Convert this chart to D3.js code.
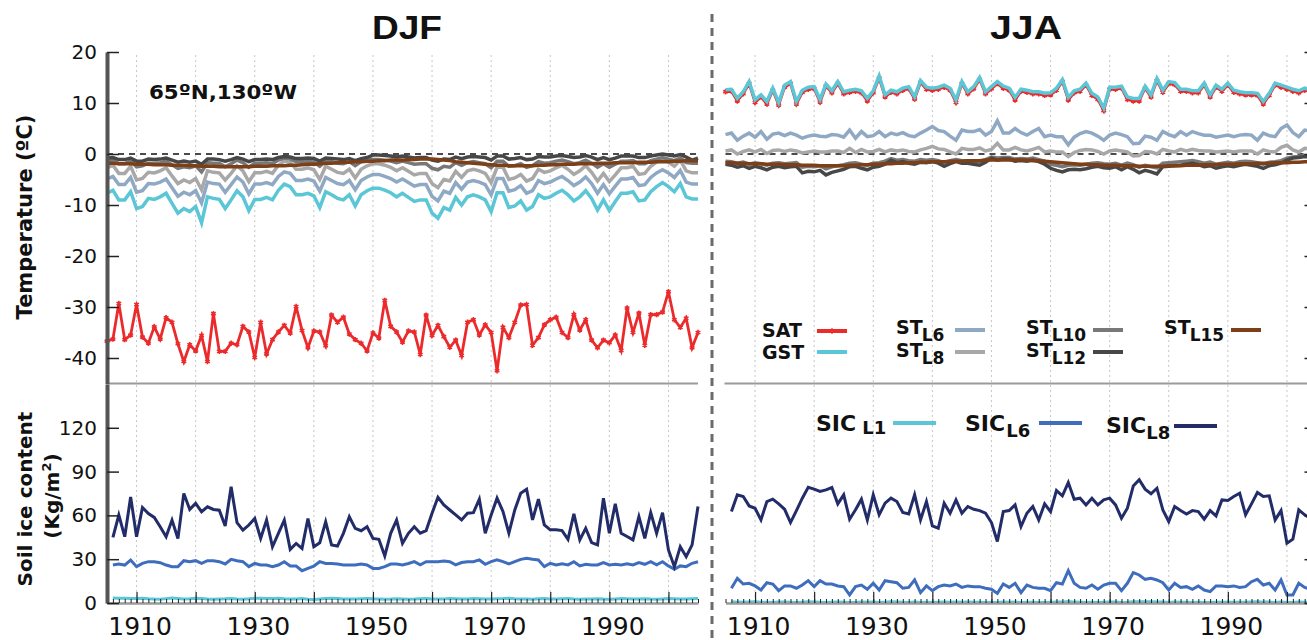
<!DOCTYPE html>
<html>
<head>
<meta charset="utf-8">
<script src="https://cdn.jsdelivr.net/npm/d3@7"></script>
<style>
  body { margin: 0; background: #fff; }
  svg text { font-family: "DejaVu Sans", sans-serif; fill: #111; }
</style>
</head>
<body>
<svg id="chart" width="1307" height="640"></svg>
<script>
// ---- data (one value per year 1905-2005) ----
var years = d3.range(1905, 2006);
var decadeYears = [1910, 1920, 1930, 1940, 1950, 1960, 1970, 1980, 1990, 2000];
var labelYears = [1910, 1930, 1950, 1970, 1990];
var tempTicks = [-40, -30, -20, -10, 0, 10, 20];
var iceTicks = [0, 30, 60, 90, 120];

var djfSAT = [-36.7,-36.3,-29.3,-36.4,-35.5,-29.5,-35.9,-37.1,-33.9,-36.3,
  -32.1,-33.0,-37.2,-40.7,-37.4,-38.6,-35.6,-40.7,-31.3,-38.7,
  -38.7,-37.1,-37.4,-33.8,-34.9,-39.9,-33.0,-39.2,-36.4,-34.9,
  -33.6,-35.1,-29.9,-34.6,-38.0,-34.7,-34.9,-37.6,-31.6,-33.0,
  -32.0,-35.3,-36.4,-37.1,-38.6,-35.1,-36.1,-28.7,-33.8,-34.9,
  -36.9,-34.7,-34.9,-39.3,-31.6,-35.6,-33.6,-35.8,-37.9,-36.5,
  -39.5,-33.0,-32.5,-35.5,-33.5,-35.0,-42.5,-34.0,-36.0,-33.0,
  -29.6,-29.5,-37.5,-36.0,-33.5,-32.5,-32.0,-35.0,-36.0,-31.5,
  -34.5,-32.5,-36.5,-38.0,-36.5,-37.0,-35.5,-38.5,-30.2,-35.0,
  -31.2,-37.5,-31.5,-31.5,-31.0,-27.0,-32.5,-34.0,-32.2,-38.0,
  -35.0];
var djfGST = [-7.7,-7.1,-9.0,-9.0,-7.4,-10.7,-10.3,-8.7,-8.9,-8.4,
  -7.7,-9.7,-11.6,-10.7,-11.3,-10.3,-13.5,-8.4,-8.7,-8.9,
  -10.7,-9.0,-7.2,-8.4,-11.1,-8.9,-8.9,-8.5,-9.0,-7.1,
  -5.9,-6.4,-8.0,-8.0,-7.7,-8.2,-10.5,-7.4,-8.0,-8.7,
  -9.0,-8.0,-10.2,-8.0,-7.2,-6.7,-6.7,-7.1,-7.6,-8.4,
  -7.7,-8.5,-9.3,-9.0,-9.0,-11.6,-12.6,-10.5,-11.0,-8.5,
  -10.0,-8.4,-8.0,-8.4,-9.0,-11.3,-7.6,-7.6,-10.5,-10.2,
  -9.2,-11.0,-10.3,-8.0,-8.7,-8.4,-7.7,-7.1,-8.0,-9.2,
  -8.4,-7.2,-8.7,-11.0,-9.0,-11.1,-9.3,-7.7,-7.7,-7.4,
  -9.2,-9.0,-7.4,-6.4,-5.6,-6.4,-7.4,-5.8,-8.4,-8.8,
  -8.8];
var djfST6 = [-4.9,-4.4,-6.0,-6.0,-4.6,-7.5,-7.2,-5.8,-5.9,-5.5,
  -4.9,-6.6,-8.3,-7.5,-8.0,-7.2,-9.6,-5.5,-5.8,-5.9,
  -7.5,-6.0,-4.5,-5.5,-7.8,-5.9,-5.9,-5.6,-6.0,-4.4,
  -3.5,-3.8,-5.2,-5.2,-4.9,-5.3,-7.3,-4.6,-5.2,-5.8,
  -6.0,-5.2,-7.0,-5.2,-4.5,-4.0,-4.0,-4.4,-4.8,-5.5,
  -4.9,-5.6,-6.3,-6.0,-6.0,-8.3,-9.2,-7.3,-7.7,-5.6,
  -6.9,-5.5,-5.2,-5.5,-6.0,-8.0,-4.8,-4.8,-7.3,-7.0,
  -6.2,-7.7,-7.2,-5.2,-5.8,-5.5,-4.9,-4.4,-5.2,-6.2,
  -5.5,-4.5,-5.8,-7.7,-6.0,-7.8,-6.3,-4.9,-4.9,-4.6,
  -6.2,-6.0,-4.6,-3.7,-3.1,-3.7,-4.6,-3.2,-5.5,-5.9,
  -5.9];
var djfST8 = [-2.7,-2.2,-3.8,-3.8,-2.4,-5.1,-4.8,-3.6,-3.7,-3.3,
  -2.7,-4.3,-5.8,-5.1,-5.6,-4.8,-7.0,-3.3,-3.6,-3.7,
  -5.1,-3.8,-2.3,-3.3,-5.4,-3.7,-3.7,-3.4,-3.8,-2.2,
  -1.4,-1.7,-3.0,-3.0,-2.7,-3.1,-5.0,-2.4,-3.0,-3.6,
  -3.8,-3.0,-4.7,-3.0,-2.3,-1.9,-1.9,-2.2,-2.6,-3.3,
  -2.7,-3.4,-4.1,-3.8,-3.8,-5.8,-6.6,-5.0,-5.3,-3.4,
  -4.6,-3.3,-3.0,-3.3,-3.8,-5.6,-2.6,-2.6,-5.0,-4.7,
  -4.0,-5.3,-4.8,-3.0,-3.6,-3.3,-2.7,-2.2,-3.0,-4.0,
  -3.3,-2.3,-3.6,-5.3,-3.8,-5.4,-4.1,-2.7,-2.7,-2.4,
  -4.0,-3.8,-2.4,-1.6,-1.1,-1.6,-2.4,-1.2,-3.3,-3.7,
  -3.7];
var djfST10 = [-1.4,-1.2,-1.9,-1.9,-1.3,-2.5,-2.3,-1.8,-1.8,-1.7,
  -1.4,-2.1,-2.8,-2.5,-2.7,-2.3,-3.5,-1.7,-1.8,-1.8,
  -2.5,-1.9,-1.2,-1.7,-2.6,-1.8,-1.8,-1.7,-1.9,-1.2,
  -0.8,-1.0,-1.5,-1.5,-1.4,-1.6,-2.4,-1.3,-1.5,-1.8,
  -1.9,-1.5,-2.3,-1.5,-1.2,-1.1,-1.1,-1.2,-1.4,-1.7,
  -1.4,-1.7,-2.0,-1.9,-1.9,-2.8,-3.1,-2.4,-2.6,-1.7,
  -2.2,-1.7,-1.5,-1.7,-1.9,-2.7,-1.4,-1.4,-2.4,-2.3,
  -1.9,-2.6,-2.3,-1.5,-1.8,-1.7,-1.4,-1.2,-1.5,-1.9,
  -1.7,-1.2,-1.8,-2.6,-1.9,-2.6,-2.0,-1.4,-1.4,-1.3,
  -1.9,-1.9,-1.3,-1.0,-0.7,-1.0,-1.3,-0.8,-1.7,-1.8,
  -1.8];
var djfST12 = [-0.8,-0.7,-1.1,-1.1,-0.8,-1.4,-1.4,-1.0,-1.1,-1.0,
  -0.8,-1.2,-1.6,-1.4,-1.6,-1.4,-2.0,-1.0,-1.0,-1.1,
  -1.4,-1.1,-0.7,-1.0,-1.5,-1.1,-1.1,-1.0,-1.1,-0.7,
  -0.5,-0.6,-0.9,-0.9,-0.8,-0.9,-1.4,-0.8,-0.9,-1.0,
  -1.1,-0.9,-1.3,-0.9,-0.7,-0.2,-0.2,-0.3,-0.4,-0.6,
  -0.4,-0.6,-0.8,-0.7,-0.7,-1.2,-1.4,-1.0,-1.1,-0.6,
  -0.9,-0.6,-0.5,-0.6,-0.7,-1.2,-0.4,-0.4,-1.0,-0.9,
  -0.7,-1.1,-1.0,-0.5,-0.6,-0.6,-0.4,-0.3,-0.5,-0.7,
  -0.6,-0.3,-0.6,-1.1,-0.7,-1.1,-0.8,-0.4,-0.4,-0.4,
  -0.7,-0.7,-0.4,-0.2,0.0,-0.2,-0.4,-0.1,-0.6,-1.2,
  -0.8];
var djfST15 = [-1.8,-1.8,-1.9,-1.9,-1.9,-2.0,-2.0,-2.0,-2.1,-2.1,
  -2.1,-2.2,-2.2,-2.2,-2.3,-2.3,-2.4,-2.4,-2.4,-2.5,
  -2.5,-2.5,-2.5,-2.5,-2.5,-2.4,-2.4,-2.4,-2.3,-2.3,
  -2.3,-2.2,-2.2,-2.1,-2.0,-2.0,-1.9,-1.8,-1.8,-1.7,
  -1.6,-1.6,-1.5,-1.5,-1.4,-1.4,-1.3,-1.3,-1.2,-1.2,
  -1.2,-1.1,-1.1,-1.0,-1.0,-1.0,-1.1,-1.2,-1.3,-1.5,
  -1.6,-1.7,-1.8,-1.9,-2.0,-2.1,-2.2,-2.2,-2.3,-2.3,
  -2.3,-2.3,-2.3,-2.2,-2.2,-2.1,-2.1,-2.0,-2.0,-2.0,
  -1.9,-1.9,-1.9,-1.8,-1.8,-1.8,-1.7,-1.7,-1.7,-1.7,
  -1.6,-1.6,-1.6,-1.5,-1.5,-1.5,-1.4,-1.4,-1.3,-1.3,
  -1.3];

var jjaSAT = [12.2,12.3,10.4,11.8,13.8,10.1,11.2,9.8,12.5,9.6,
  13.1,13.8,9.8,12.1,12.7,12.8,10.2,13.3,12.0,13.8,
  11.8,12.1,12.3,12.0,10.4,12.0,14.9,11.2,12.1,11.8,
  12.5,12.8,10.8,14.0,12.7,12.5,12.7,13.1,12.5,10.1,
  13.8,11.8,12.8,14.6,11.8,12.8,13.8,12.9,12.5,10.6,
  12.3,12.1,11.8,11.8,11.5,11.6,12.5,14.2,10.6,12.0,
  12.3,13.5,11.5,10.7,8.5,12.7,12.7,12.9,10.7,10.4,
  10.4,12.9,11.2,14.4,12.1,13.8,13.6,12.3,12.3,12.0,
  12.0,13.5,11.2,13.1,12.3,13.5,12.1,11.8,11.6,11.6,
  11.5,9.8,11.5,13.5,13.1,12.7,12.3,12.0,12.5,12.2,
  11.9];
var jjaGST = [12.6,12.7,10.9,12.2,14.2,10.6,11.6,10.3,12.9,10.1,
  13.5,14.2,10.3,12.5,13.1,13.2,10.7,13.7,12.4,14.2,
  12.2,12.5,12.7,12.4,10.9,12.4,15.3,11.6,12.5,12.2,
  12.9,13.2,11.2,14.4,13.1,12.9,13.1,13.5,12.9,10.6,
  14.2,12.2,13.2,15.0,12.2,13.2,14.2,13.3,12.9,11.1,
  12.7,12.5,12.2,12.2,11.9,12.0,12.9,14.6,11.1,12.4,
  12.7,13.9,11.9,11.2,9.0,13.1,13.1,13.3,11.2,10.9,
  10.9,13.3,11.6,14.8,12.5,14.2,14.0,12.7,12.7,12.4,
  12.4,13.9,11.6,13.5,12.7,13.9,12.5,12.2,12.0,12.0,
  11.9,10.3,11.9,13.9,13.5,13.1,12.7,12.4,12.9,12.6,
  12.3];
var jjaST6 = [3.8,4.1,2.7,3.5,4.1,3.3,4.4,2.9,3.9,4.1,
  3.6,4.1,3.7,3.1,3.5,3.7,3.5,3.4,3.8,3.7,
  3.3,4.7,3.1,4.4,3.4,3.6,4.4,3.4,4.1,3.8,
  4.2,3.6,3.4,4.1,4.7,5.4,4.6,4.4,3.5,2.7,
  4.7,4.4,4.4,4.8,3.7,4.4,6.5,4.1,4.1,5.0,
  4.2,3.7,4.4,5.0,3.4,3.7,3.4,3.4,1.8,3.3,
  4.0,4.4,4.1,3.5,2.7,3.7,4.1,3.8,3.4,2.0,
  2.1,3.5,3.3,2.7,4.4,3.8,3.4,4.4,3.7,4.4,
  4.0,3.7,3.7,3.3,3.5,3.7,3.4,3.7,3.8,3.7,
  2.7,4.1,3.6,3.4,5.0,5.7,4.2,3.4,4.7,4.5,
  4.2];
var jjaST8 = [0.6,0.8,0.0,0.5,0.8,0.4,0.9,0.1,0.7,0.8,
  0.5,0.8,0.6,0.2,0.4,0.6,0.4,0.4,0.6,0.6,
  0.3,1.1,0.3,0.9,0.4,0.5,0.9,0.4,0.8,0.6,
  0.8,0.5,0.4,0.8,1.1,1.5,1.0,0.9,0.4,0.0,
  1.1,0.9,0.9,1.2,0.6,0.9,2.1,0.8,0.8,1.3,
  0.8,0.6,0.9,1.3,0.4,0.6,0.4,0.4,-0.5,0.3,
  0.7,0.9,0.8,0.5,0.0,0.6,0.8,0.6,0.4,-0.4,
  -0.3,0.5,0.4,0.0,0.9,0.6,0.4,0.9,0.6,0.9,
  0.7,0.6,0.6,0.4,0.5,0.6,0.4,0.6,0.6,0.6,
  0.0,0.8,0.5,0.4,1.3,1.7,0.8,0.4,1.1,1.0,
  0.8];
var jjaST10 = [-1.4,-1.5,-1.8,-1.6,-2.0,-1.7,-1.9,-2.2,-1.8,-1.7,
  -1.9,-1.8,-1.7,-2.6,-2.4,-2.5,-2.3,-2.9,-2.5,-2.3,
  -2.1,-1.8,-1.7,-2.0,-2.2,-1.8,-1.7,-1.4,-0.9,-1.2,
  -1.1,-1.3,-1.4,-1.1,-1.2,-1.1,-1.3,-1.7,-1.3,-1.1,
  -1.3,-1.3,-1.4,-1.5,-1.1,-0.6,-0.8,-0.7,-0.7,-1.0,
  -0.9,-1.0,-0.8,-1.1,-1.4,-2.0,-2.2,-2.5,-2.2,-2.1,
  -2.2,-2.0,-1.8,-1.7,-1.9,-2.0,-1.8,-2.2,-1.8,-2.1,
  -2.6,-2.2,-2.5,-2.7,-1.8,-1.7,-1.6,-1.5,-1.4,-1.3,
  -1.5,-1.8,-1.6,-2.0,-1.8,-1.6,-1.8,-1.5,-1.4,-1.5,
  -1.7,-2.0,-1.6,-1.5,-1.3,-0.8,-0.6,-0.5,-0.3,-0.4,
  -0.5];
var jjaST12 = [-2.0,-2.2,-2.6,-2.3,-2.8,-2.4,-2.7,-3.1,-2.6,-2.4,
  -2.7,-2.5,-2.4,-3.7,-3.4,-3.5,-3.2,-4.1,-3.6,-3.3,
  -3.0,-2.5,-2.4,-2.8,-3.1,-2.6,-2.4,-2.0,-1.2,-1.7,
  -1.5,-1.8,-2.0,-1.6,-1.7,-1.5,-1.8,-2.4,-1.9,-1.5,
  -1.8,-1.8,-2.0,-2.2,-1.6,-0.8,-1.2,-1.0,-1.0,-1.4,
  -1.3,-1.4,-1.2,-1.5,-2.0,-2.8,-3.2,-3.5,-3.1,-3.0,
  -3.1,-2.9,-2.6,-2.4,-2.7,-2.8,-2.5,-3.1,-2.5,-3.0,
  -3.7,-3.2,-3.5,-3.9,-2.5,-2.4,-2.3,-2.2,-2.0,-1.8,
  -2.1,-2.5,-2.3,-2.8,-2.5,-2.3,-2.5,-2.2,-2.0,-2.2,
  -2.4,-2.8,-2.3,-2.1,-1.8,-1.2,-0.8,-0.7,-0.5,-0.6,
  -0.7];
var jjaST15 = [-1.7,-1.7,-1.8,-1.8,-1.9,-1.9,-1.9,-2.0,-2.0,-2.0,
  -2.1,-2.1,-2.1,-2.2,-2.2,-2.2,-2.3,-2.3,-2.3,-2.3,
  -2.3,-2.2,-2.2,-2.1,-2.1,-2.0,-2.0,-1.9,-1.9,-1.8,
  -1.8,-1.7,-1.7,-1.6,-1.6,-1.5,-1.5,-1.5,-1.4,-1.4,
  -1.4,-1.3,-1.3,-1.3,-1.2,-1.2,-1.2,-1.2,-1.2,-1.2,
  -1.2,-1.2,-1.3,-1.3,-1.4,-1.5,-1.6,-1.7,-1.8,-1.9,
  -2.0,-2.0,-2.1,-2.1,-2.2,-2.2,-2.2,-2.3,-2.3,-2.3,
  -2.4,-2.4,-2.4,-2.4,-2.4,-2.3,-2.3,-2.3,-2.2,-2.2,
  -2.2,-2.1,-2.1,-2.1,-2.0,-2.0,-2.0,-1.9,-1.9,-1.9,
  -1.8,-1.8,-1.8,-1.7,-1.7,-1.7,-1.6,-1.6,-1.5,-1.5,
  -1.5];

var djfSIC1 = [null,3.5,3.3,3.2,3.0,3.1,3.3,2.9,2.7,2.6,
  3.0,3.4,3.1,2.8,2.9,3.2,3.0,2.7,2.6,2.8,
  2.9,3.1,2.8,2.6,2.9,3.3,3.2,3.0,3.1,3.3,
  2.9,2.7,2.8,3.0,2.6,2.4,2.8,3.1,3.2,3.0,
  2.8,2.7,2.7,2.9,3.1,2.9,2.8,2.6,2.7,2.9,
  2.8,2.6,2.7,2.9,3.1,2.8,2.7,2.8,3.0,2.9,
  2.7,2.8,3.1,2.9,2.7,2.8,2.9,3.0,3.2,2.9,
  2.7,2.8,2.6,2.9,3.0,2.8,2.7,2.9,3.1,2.8,
  2.6,2.7,2.8,2.9,2.7,2.6,2.8,3.0,2.9,2.7,
  2.8,2.9,2.7,2.6,2.8,3.0,2.9,2.8,2.7,2.9,
  3.1];
var djfSIC6 = [null,26.0,26.7,26.0,29.4,24.9,27.1,28.3,28.3,27.6,
  26.0,24.9,24.9,29.0,28.3,29.0,27.1,29.0,29.0,28.3,
  26.7,29.9,29.0,28.3,24.9,27.1,26.0,26.0,24.9,26.0,
  28.3,25.3,25.3,22.1,23.7,25.3,28.3,27.1,27.1,26.7,
  26.0,26.0,26.0,26.7,26.0,23.7,23.7,24.9,26.7,26.7,
  26.0,27.1,28.3,26.1,28.3,28.3,28.3,28.8,28.3,26.1,
  27.7,28.3,28.3,29.5,26.5,28.3,29.5,28.3,26.8,28.3,
  29.9,30.6,29.9,29.5,24.9,27.2,26.1,26.8,26.1,28.3,
  25.4,26.5,26.1,26.1,27.7,26.1,26.5,26.1,26.8,26.1,
  27.7,26.5,28.3,26.1,28.3,25.4,23.1,25.4,24.9,27.2,
  28.3];
var djfSIC8 = [null,44.9,60.2,45.4,72.7,45.4,65.4,61.3,58.6,52.2,
  45.4,56.8,44.2,75.0,64.1,68.2,62.5,65.9,64.1,63.6,
  52.7,79.6,55.0,49.9,53.4,57.9,44.2,56.8,38.5,47.7,
  56.8,36.7,40.8,37.4,57.9,38.5,41.3,55.6,39.7,39.0,
  47.7,59.1,51.1,49.5,52.2,44.2,43.6,32.2,47.7,56.8,
  40.8,47.7,52.2,47.8,49.6,61.5,72.4,67.2,63.7,60.3,
  56.9,61.5,61.9,71.1,47.8,60.3,71.8,62.7,47.8,63.7,
  75.2,77.9,56.9,71.1,53.5,50.1,50.1,49.6,43.6,61.0,
  43.2,51.2,41.4,39.8,71.8,47.8,68.0,47.8,45.5,43.2,
  59.2,44.3,61.9,47.8,61.9,36.3,24.9,38.6,31.7,39.8,
  66.1];

var jjaSIC1 = [null,0.8,0.6,0.5,0.7,0.9,0.6,0.5,0.4,0.6,
  0.7,0.5,0.4,0.6,0.8,0.7,0.5,0.4,0.5,0.6,
  0.5,0.3,0.4,0.6,0.5,0.7,0.4,0.6,0.8,0.7,
  0.5,0.4,0.7,0.3,0.5,0.4,0.5,0.6,0.5,0.6,
  0.5,0.6,0.5,0.5,0.4,0.4,0.3,0.6,0.5,0.6,
  0.3,0.5,0.5,0.4,0.4,0.4,0.6,0.6,1.0,0.6,
  0.5,0.4,0.5,0.4,0.5,0.6,0.6,0.4,0.6,0.9,
  0.9,0.8,0.8,0.7,0.6,0.4,0.6,0.5,0.5,0.4,
  0.5,0.4,0.4,0.5,0.5,0.5,0.5,0.5,0.5,0.7,
  0.8,0.6,0.6,0.4,0.7,0.3,0.3,0.6,0.5,0.4,
  0.5];
var jjaSIC6 = [null,10.1,16.9,13.0,13.5,11.7,8.9,13.9,13.0,8.5,
  11.7,11.7,10.1,12.3,15.3,11.2,15.3,13.0,13.0,11.7,
  11.2,5.5,11.2,12.3,9.4,13.5,8.9,15.3,14.6,13.9,
  10.1,10.7,15.8,7.1,11.7,8.5,11.2,12.3,11.7,13.0,
  10.7,11.7,11.2,11.2,10.1,9.4,6.6,13.0,10.7,13.5,
  7.1,12.3,10.7,10.1,10.1,8.5,13.9,13.0,22.2,13.5,
  10.7,10.1,12.3,9.4,12.3,13.5,13.5,8.5,13.5,20.8,
  19.2,16.2,16.9,15.8,13.9,8.9,13.5,10.7,11.2,9.4,
  11.7,8.9,7.8,11.7,11.7,11.2,11.7,10.7,11.2,14.6,
  16.2,12.3,13.5,8.9,15.8,5.5,5.5,13.5,10.7,9.5,
  10.0];
var jjaSIC8 = [null,62.6,74.1,72.9,66.5,64.9,56.9,69.5,71.1,67.9,
  64.2,55.1,63.3,71.8,79.3,78.0,76.4,77.5,79.1,67.9,
  74.1,57.4,63.8,71.1,56.9,74.1,60.4,68.4,71.8,69.5,
  62.0,61.0,74.1,56.9,69.5,52.8,51.2,68.4,61.5,70.6,
  61.5,66.1,64.2,63.3,61.5,55.1,42.1,62.6,63.3,67.2,
  52.4,61.5,66.1,56.9,67.9,62.6,77.0,73.4,82.5,71.1,
  71.8,67.2,71.8,67.2,70.6,71.8,67.2,58.1,64.9,80.2,
  84.4,78.0,74.8,78.6,63.8,55.8,66.1,63.3,61.0,63.3,
  62.6,57.4,63.3,59.7,70.6,70.2,72.9,75.2,60.4,67.9,
  75.7,72.9,73.4,56.9,63.3,40.9,43.7,63.8,60.4,58.0,
  56.0];

var colors = {
  SAT: "#ec2a2c", GST: "#5ac6d6", ST6: "#8fa9c4", ST8: "#a8a8a8",
  ST10: "#787878", ST12: "#474747", ST15: "#7c3f18",
  SIC1: "#5ac6d6", SIC6: "#3f6dbd", SIC8: "#222c68"
};

var panels = [
  { title: "DJF", titleX: 372, titleW: 70, left: 107, right: 698, side: "left",
    temp: { SAT: djfSAT, GST: djfGST, ST6: djfST6, ST8: djfST8, ST10: djfST10, ST12: djfST12, ST15: djfST15 },
    ice: { SIC1: djfSIC1, SIC6: djfSIC6, SIC8: djfSIC8 } },
  { title: "JJA", titleX: 990, titleW: 72, left: 725.5, right: 1316.5, side: "right",
    temp: { SAT: jjaSAT, GST: jjaGST, ST6: jjaST6, ST8: jjaST8, ST10: jjaST10, ST12: jjaST12, ST15: jjaST15 },
    ice: { SIC1: jjaSIC1, SIC6: jjaSIC6, SIC8: jjaSIC8 } }
];

let chart = d3.select("#chart");
let yT = d3.scaleLinear().domain([-45, 20]).range([383.5, 52]);
let yI = d3.scaleLinear().domain([0, 150]).range([603, 384]);
let asterisk = d3.symbolAsterisk || d3.symbolCross;

function drawSeries(g, x, y, values, color, width) {
  let line = d3.line()
    .defined(d => d != null)
    .x((d, i) => x(years[i]))
    .y(d => y(d));
  g.append("path")
    .datum(values)
    .attr("d", line)
    .style("fill", "none")
    .style("stroke", color)
    .style("stroke-width", width + "px")
    .style("stroke-linejoin", "miter");
}

function drawPanel(p) {
  let x = d3.scaleLinear().domain([1905, 2005]).range([p.left, p.right]);
  let g = chart.append("g");

  // dotted decade grid
  g.selectAll(".grid").data(decadeYears).enter().append("line")
    .attr("x1", d => x(d)).attr("x2", d => x(d))
    .attr("y1", yT(20) + 3).attr("y2", yI(0))
    .style("stroke", "#c6c6c6").style("stroke-width", 1)
    .style("stroke-dasharray", "2,3");

  // zero line
  g.append("line")
    .attr("x1", p.left).attr("x2", p.right)
    .attr("y1", yT(0)).attr("y2", yT(0))
    .style("stroke", "#111").style("stroke-width", 1.5)
    .style("stroke-dasharray", "6,5");

  // separator between temperature and ice panels
  g.append("line")
    .attr("x1", p.left - 1).attr("x2", p.right)
    .attr("y1", yT(-45)).attr("y2", yT(-45))
    .style("stroke", "#9a9a9a").style("stroke-width", 2);

  // temperature series
  drawSeries(g, x, yT, p.temp.SAT, colors.SAT, 2.8);
  g.selectAll(".sat").data(p.temp.SAT).enter().append("path")
    .attr("transform", (d, i) => "translate(" + x(years[i]) + "," + yT(d) + ")")
    .attr("d", d3.symbol().type(asterisk).size(20))
    .style("fill", "none").style("stroke", colors.SAT).style("stroke-width", 1.6);
  drawSeries(g, x, yT, p.temp.GST, colors.GST, 3.5);
  drawSeries(g, x, yT, p.temp.ST6, colors.ST6, 3.5);
  drawSeries(g, x, yT, p.temp.ST8, colors.ST8, 3.5);
  drawSeries(g, x, yT, p.temp.ST10, colors.ST10, 3.5);
  drawSeries(g, x, yT, p.temp.ST12, colors.ST12, 3.5);
  drawSeries(g, x, yT, p.temp.ST15, colors.ST15, 3.5);

  // soil ice series
  drawSeries(g, x, yI, p.ice.SIC1, colors.SIC1, 3);
  drawSeries(g, x, yI, p.ice.SIC6, colors.SIC6, 3);
  drawSeries(g, x, yI, p.ice.SIC8, colors.SIC8, 3);

  // x axis: minor yearly ticks, major decade ticks, labels
  let xMinor = g.append("g").attr("transform", "translate(0," + yI(0) + ")")
    .call(d3.axisTop(x).tickValues(years).tickSize(4).tickSizeOuter(0).tickFormat(""));
  xMinor.selectAll(".tick line").style("stroke", "#222").style("stroke-width", 1);
  xMinor.select(".domain").style("stroke", "#9a9a9a").style("stroke-width", 2.5);

  let xMajor = g.append("g").attr("transform", "translate(0," + yI(0) + ")")
    .call(d3.axisTop(x).tickValues(decadeYears).tickSize(11).tickSizeOuter(0).tickFormat(""));
  xMajor.select(".domain").remove();
  xMajor.selectAll(".tick line").style("stroke", "#222").style("stroke-width", 1.2);

  let xLab = g.append("g").attr("transform", "translate(0," + yI(0) + ")")
    .call(d3.axisBottom(x).tickValues(labelYears).tickSize(0).tickPadding(14).tickFormat(d => d));
  xLab.select(".domain").remove();
  xLab.selectAll("text")
    .attr("dx", 3)
    .style("font-family", "DejaVu Sans").style("font-size", "25px").style("fill", "#111");

  // y axes (the JJA axis sits at the cropped right edge, its labels fall outside the picture)
  let axisT = p.side === "left" ? d3.axisLeft(yT) : d3.axisRight(yT);
  let axisI = p.side === "left" ? d3.axisLeft(yI) : d3.axisRight(yI);
  let ax = p.side === "left" ? p.left : p.right;
  let fmt = p.side === "left" ? (d => String(d)) : (d => "");
  [[axisT, tempTicks], [axisI, iceTicks]].forEach(function (a) {
    let ga = g.append("g").attr("transform", "translate(" + ax + ",0)")
      .call(a[0].tickValues(a[1]).tickSizeInner(-12).tickSizeOuter(0).tickPadding(10).tickFormat(fmt));
    ga.select(".domain").style("stroke", "#555").style("stroke-width", 4);
    ga.selectAll(".tick line").style("stroke", "#222").style("stroke-width", 1.5);
    ga.selectAll("text").style("font-family", "DejaVu Sans").style("font-size", "20px").style("fill", "#111");
  });

  // season title
  g.append("text")
    .attr("x", p.titleX).attr("y", 39)
    .attr("textLength", p.titleW).attr("lengthAdjust", "spacingAndGlyphs")
    .style("font-family", "Liberation Sans").style("font-weight", "bold").style("font-size", "34px")
    .text(p.title);
}

panels.forEach(drawPanel);

// dashed divider between seasons
chart.append("line")
  .attr("x1", 712).attr("x2", 712).attr("y1", 14).attr("y2", 640)
  .style("stroke", "#6b6b6b").style("stroke-width", 3).style("stroke-dasharray", "8,6");

// location label
chart.append("text").attr("x", 149).attr("y", 99)
  .attr("textLength", 148).attr("lengthAdjust", "spacingAndGlyphs")
  .style("font-weight", "bold").style("font-size", "20px")
  .text("65ºN,130ºW");

// axis titles
chart.append("text")
  .attr("transform", "translate(32,217) rotate(-90)")
  .attr("text-anchor", "middle")
  .style("font-weight", "bold").style("font-size", "21px")
  .text("Temperature (ºC)");
chart.append("text")
  .attr("transform", "translate(32,499) rotate(-90)")
  .attr("text-anchor", "middle")
  .style("font-weight", "bold").style("font-size", "20px")
  .text("Soil ice content");
let unit = chart.append("text")
  .attr("transform", "translate(59,496) rotate(-90)")
  .attr("text-anchor", "middle")
  .style("font-weight", "bold").style("font-size", "20px");
unit.append("tspan").text("(Kg/m");
unit.append("tspan").attr("dy", -8).style("font-size", "13px").text("2");
unit.append("tspan").attr("dy", 8).text(")");

// legends (inside the JJA panel)
var tempLegend = [
  { key: "SAT", name: "SAT", sub: "",    tx: 762,  ty: 337, lx: 817,  ly: 331, marker: true },
  { key: "GST", name: "GST", sub: "",    tx: 762,  ty: 359, lx: 817,  ly: 352 },
  { key: "ST6", name: "ST",  sub: "L6",  tx: 896,  ty: 334, lx: 955,  ly: 330 },
  { key: "ST8", name: "ST",  sub: "L8",  tx: 896,  ty: 357, lx: 955,  ly: 352 },
  { key: "ST10", name: "ST", sub: "L10", tx: 1026, ty: 334, lx: 1093, ly: 330 },
  { key: "ST12", name: "ST", sub: "L12", tx: 1026, ty: 357, lx: 1093, ly: 352 },
  { key: "ST15", name: "ST", sub: "L15", tx: 1164, ty: 334, lx: 1231, ly: 330 }
];
var iceLegend = [
  { key: "SIC1", name: "SIC", sub: "L1", dx: 6, dy: 3, tx: 816,  ty: 431, lx: 893,  ly: 423 },
  { key: "SIC6", name: "SIC", sub: "L6", dx: 1, dy: 6, tx: 965,  ty: 431, lx: 1039, ly: 423 },
  { key: "SIC8", name: "SIC", sub: "L8", dx: 0, dy: 6, tx: 1106, ty: 433, lx: 1174, ly: 426 }
];

tempLegend.forEach(function (d) {
  let t = chart.append("text").attr("x", d.tx).attr("y", d.ty)
    .style("font-weight", "bold").style("font-size", d.sub ? "19px" : "19px");
  t.append("tspan").text(d.name);
  if (d.sub) t.append("tspan").attr("dy", 7).attr("dx", -1).style("font-size", "17px").text(d.sub);
  chart.append("line")
    .attr("x1", d.lx).attr("x2", d.lx + 30).attr("y1", d.ly).attr("y2", d.ly)
    .style("stroke", colors[d.key]).style("stroke-width", 4);
  if (d.marker) {
    chart.append("path")
      .attr("transform", "translate(" + (d.lx + 15) + "," + d.ly + ")")
      .attr("d", d3.symbol().type(asterisk).size(20))
      .style("fill", "none").style("stroke", colors.SAT).style("stroke-width", 1.6);
  }
});

iceLegend.forEach(function (d) {
  let t = chart.append("text").attr("x", d.tx).attr("y", d.ty)
    .style("font-weight", "bold").style("font-size", "22px");
  t.append("tspan").text(d.name);
  t.append("tspan").attr("dx", d.dx).attr("dy", d.dy).style("font-size", "18px").text(d.sub);
  chart.append("line")
    .attr("x1", d.lx).attr("x2", d.lx + 43).attr("y1", d.ly).attr("y2", d.ly)
    .style("stroke", colors[d.key]).style("stroke-width", 4);
});
</script>
</body>
</html>
